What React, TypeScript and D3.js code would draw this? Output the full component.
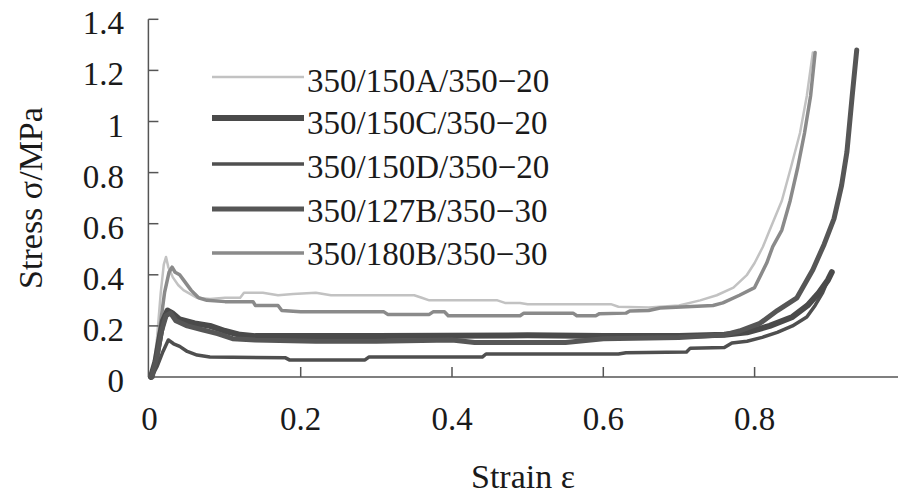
import React from "react";
import * as d3 from "d3";

type Pt = [number, number];

const xTicks = [0, 0.2, 0.4, 0.6, 0.8];
const yTicks = [0, 0.2, 0.4, 0.6, 0.8, 1, 1.2, 1.4];
const xTickLabels = ["0", "0.2", "0.4", "0.6", "0.8"];
const yTickLabels = ["0", "0.2", "0.4", "0.6", "0.8", "1", "1.2", "1.4"];

const seriesNames = [
  "350/150A/350\u221220",
  "350/150C/350\u221220",
  "350/150D/350\u221220",
  "350/127B/350\u221230",
  "350/180B/350\u221230",
];

const seriesA: Pt[] = [
  [0.004, 0.0], [0.01, 0.15], [0.015, 0.33], [0.019, 0.44], [0.022, 0.47], [0.025, 0.43],
  [0.031, 0.39], [0.038, 0.36], [0.045, 0.34], [0.063, 0.31], [0.08, 0.305], [0.1, 0.31],
  [0.12, 0.31], [0.125, 0.33], [0.15, 0.33], [0.16, 0.325], [0.17, 0.32], [0.19, 0.325],
  [0.22, 0.33], [0.24, 0.32], [0.35, 0.32], [0.36, 0.31], [0.37, 0.3], [0.46, 0.3],
  [0.47, 0.29], [0.49, 0.29], [0.5, 0.285], [0.61, 0.285], [0.62, 0.275], [0.66, 0.272],
  [0.7, 0.28], [0.728, 0.3], [0.75, 0.32], [0.772, 0.35], [0.79, 0.4], [0.8, 0.446],
  [0.811, 0.51], [0.82, 0.575], [0.836, 0.69], [0.848, 0.82], [0.86, 0.955], [0.869, 1.1],
  [0.877, 1.27],
];

const seriesC: Pt[] = [
  [0.002, 0.0], [0.008, 0.06], [0.014, 0.16], [0.018, 0.22], [0.024, 0.26], [0.03, 0.25],
  [0.04, 0.225], [0.06, 0.21], [0.08, 0.2], [0.1, 0.18], [0.12, 0.165], [0.14, 0.16],
  [0.3, 0.16], [0.5, 0.163], [0.6, 0.16], [0.7, 0.16], [0.76, 0.165], [0.79, 0.175],
  [0.82, 0.2], [0.85, 0.235], [0.87, 0.28], [0.885, 0.33], [0.897, 0.38], [0.902, 0.41],
];

const seriesD: Pt[] = [
  [0.003, 0.0], [0.01, 0.04], [0.018, 0.1], [0.025, 0.145], [0.032, 0.13], [0.04, 0.12],
  [0.05, 0.1], [0.063, 0.086], [0.08, 0.078], [0.18, 0.075], [0.185, 0.067], [0.285, 0.067],
  [0.29, 0.078], [0.44, 0.078], [0.445, 0.09], [0.62, 0.09], [0.63, 0.095], [0.71, 0.098],
  [0.715, 0.113], [0.76, 0.115], [0.77, 0.133], [0.79, 0.14], [0.81, 0.155], [0.83, 0.175],
  [0.85, 0.2], [0.869, 0.235], [0.88, 0.28], [0.89, 0.33], [0.897, 0.38], [0.902, 0.41],
];

const series127B: Pt[] = [
  [0.003, 0.0], [0.01, 0.08], [0.016, 0.18], [0.022, 0.24], [0.028, 0.25], [0.035, 0.22],
  [0.05, 0.2], [0.07, 0.185], [0.09, 0.17], [0.11, 0.15], [0.14, 0.145], [0.22, 0.14],
  [0.3, 0.14], [0.4, 0.145], [0.43, 0.135], [0.55, 0.135], [0.6, 0.15], [0.7, 0.155],
  [0.76, 0.165], [0.78, 0.18], [0.807, 0.21], [0.83, 0.26], [0.856, 0.31], [0.877, 0.42],
  [0.892, 0.52], [0.905, 0.62], [0.915, 0.75], [0.922, 0.88], [0.929, 1.1], [0.935, 1.28],
];

const series180B: Pt[] = [
  [0.005, 0.0], [0.012, 0.15], [0.02, 0.33], [0.026, 0.41], [0.03, 0.43], [0.034, 0.41],
  [0.04, 0.4], [0.045, 0.38], [0.055, 0.34], [0.065, 0.31], [0.076, 0.3], [0.1, 0.295],
  [0.137, 0.295], [0.14, 0.28], [0.17, 0.28], [0.175, 0.26], [0.2, 0.255], [0.31, 0.255],
  [0.315, 0.245], [0.37, 0.245], [0.375, 0.255], [0.39, 0.255], [0.395, 0.24], [0.49, 0.24],
  [0.495, 0.25], [0.56, 0.25], [0.565, 0.24], [0.59, 0.24], [0.595, 0.248], [0.63, 0.25],
  [0.635, 0.258], [0.66, 0.26], [0.675, 0.27], [0.745, 0.28], [0.758, 0.29], [0.78, 0.32],
  [0.8, 0.35], [0.816, 0.446], [0.824, 0.51], [0.836, 0.575], [0.847, 0.69], [0.857, 0.82],
  [0.866, 0.955], [0.874, 1.1], [0.88, 1.27],
];

const seriesData: Pt[][] = [seriesA, seriesC, seriesD, series127B, series180B];

const styles = [
  { color: "#c2c2c2", width: 2.5 },
  { color: "#4a4a4a", width: 6 },
  { color: "#4f4f4f", width: 3.5 },
  { color: "#565656", width: 5 },
  { color: "#8a8a8a", width: 3.5 },
];

const W = 898;
const H = 494;
const FONT = '"Liberation Serif", "DejaVu Serif", "Times New Roman", Times, serif';
const textStyle: React.CSSProperties = { fontFamily: FONT };

export default function App() {
  const x = d3.scaleLinear().domain([0, 1]).range([149.4, 905.9]);
  const y = d3.scaleLinear().domain([0, 1.4]).range([377, 19.3]);
  const line = d3
    .line<Pt>()
    .x((d) => x(d[0]))
    .y((d) => y(d[1]))
    .curve(d3.curveLinear);

  const x0 = x(0) - 1;
  const y0 = y(0);
  const drawOrder = [0, 4, 2, 1, 3];

  return (
    <svg
      width={W}
      height={H}
      style={{ position: "absolute", left: 0, top: 0, background: "#fff" }}
    >
      <rect x={0} y={0} width={W} height={H} fill="#fff" />
      {drawOrder.map((i) => (
        <path
          key={i}
          d={line(seriesData[i]) || ""}
          fill="none"
          stroke={styles[i].color}
          strokeWidth={styles[i].width}
          strokeLinejoin="round"
          strokeLinecap="round"
        />
      ))}
      <line x1={x0} y1={y(1.4)} x2={x0} y2={y0} stroke="#555" strokeWidth={1.5} />
      <line x1={x0} y1={y0} x2={W} y2={y0} stroke="#555" strokeWidth={1.5} />
      {yTicks.map((t, i) => (
        <g key={"y" + i}>
          {t > 0 && (
            <line x1={x0} x2={x0 + 10} y1={y(t)} y2={y(t)} stroke="#555" strokeWidth={1.5} />
          )}
          <text x={124} y={y(t) + 15} textAnchor="end" fontSize={33} fill="#1a1a1a" style={textStyle}>
            {yTickLabels[i]}
          </text>
        </g>
      ))}
      {xTicks.map((t, i) => (
        <g key={"x" + i}>
          {t > 0 && (
            <line x1={x(t)} x2={x(t)} y1={y0} y2={y0 - 10} stroke="#555" strokeWidth={1.5} />
          )}
          <text x={x(t)} y={430} textAnchor="middle" fontSize={33} fill="#1a1a1a" style={textStyle}>
            {xTickLabels[i]}
          </text>
        </g>
      ))}
      <line x1={x(1)} x2={x(1)} y1={y0} y2={y0 - 10} stroke="#555" strokeWidth={1.5} />
      <text x={523} y={488} textAnchor="middle" fontSize={34} fill="#1a1a1a" style={textStyle}>
        Strain ε
      </text>
      <text
        transform={`translate(42, 198) rotate(-90)`}
        textAnchor="middle"
        fontSize={34}
        fill="#1a1a1a"
        style={textStyle}
      >
        Stress σ/MPa
      </text>
      {seriesNames.map((name, i) => {
        const ly = [77, 118, 164, 209, 253][i];
        const tb = [92, 134, 178, 222, 265][i];
        return (
          <g key={"l" + i}>
            <line x1={212} x2={304} y1={ly} y2={ly} stroke={styles[i].color} strokeWidth={styles[i].width} />
            <text x={307} y={tb} fontSize={33} fill="#1a1a1a" style={textStyle}>
              {name}
            </text>
          </g>
        );
      })}
    </svg>
  );
}
